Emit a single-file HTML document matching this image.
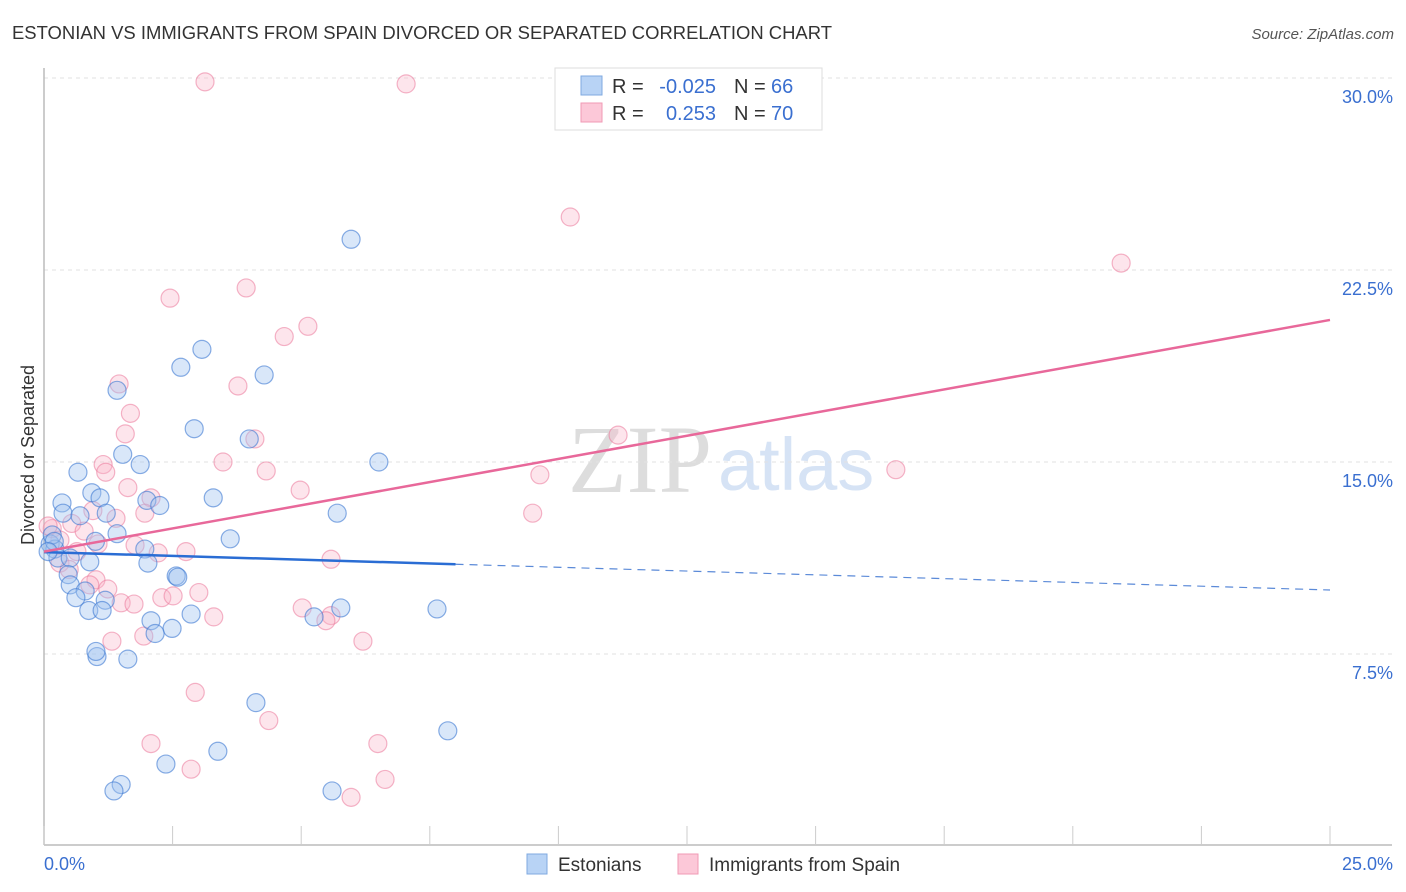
<!DOCTYPE html>
<html><head><meta charset="utf-8"><style>
body{margin:0;background:#fff;font-family:"Liberation Sans",sans-serif;}
svg{display:block}
</style></head><body>
<svg id="chart" width="1406" height="892">
<text x="12" y="39" font-size="18" fill="#333" textLength="820" lengthAdjust="spacingAndGlyphs">ESTONIAN VS IMMIGRANTS FROM SPAIN DIVORCED OR SEPARATED CORRELATION CHART</text>
<text x="1394" y="39" font-size="15" fill="#555" font-style="italic" text-anchor="end">Source: ZipAtlas.com</text>
<text x="712" y="492" font-size="96" fill="#ddd" font-family="Liberation Serif" text-anchor="end">ZIP</text>
<text x="718" y="490" font-size="74" fill="#d6e3f5">atlas</text>
<g id="grid"></g>
<g id="axes"></g>
<g id="pts"></g>
<g id="trend"></g>
<text transform="translate(34,455) rotate(-90)" font-size="18" fill="#333" text-anchor="middle">Divorced or Separated</text>
<g>
<rect x="555" y="68" width="267" height="62" fill="#fff" stroke="#ddd"/>
<rect x="581" y="76" width="21" height="19" fill="#b8d3f5" stroke="#7fa9e0"/>
<rect x="581" y="103" width="21" height="19" fill="#fcc8d8" stroke="#f09ab5"/>
<text x="612" y="93" font-size="20" fill="#333">R =</text>
<text x="716" y="93" font-size="20" fill="#3a6fd0" text-anchor="end">-0.025</text>
<text x="734" y="93" font-size="20" fill="#333">N =</text>
<text x="771" y="93" font-size="20" fill="#3a6fd0">66</text>
<text x="612" y="120" font-size="20" fill="#333">R =</text>
<text x="716" y="120" font-size="20" fill="#3a6fd0" text-anchor="end">0.253</text>
<text x="734" y="120" font-size="20" fill="#333">N =</text>
<text x="771" y="120" font-size="20" fill="#3a6fd0">70</text>
</g>
<g>
<rect x="527" y="854" width="20" height="20" fill="#b8d3f5" stroke="#7fa9e0"/>
<text x="558" y="871" font-size="19" fill="#333">Estonians</text>
<text x="709" y="871" font-size="19" fill="#333">Immigrants from Spain</text>
<rect x="678" y="854" width="20" height="20" fill="#fcc8d8" stroke="#f09ab5"/>
</g>
</svg>
<script>
const xTicks=[0,2.5,5,7.5,10,12.5,15,17.5,20,22.5,25];
const yTicks=[7.5,15,22.5,30];
const yTickLabels=["7.5%","15.0%","22.5%","30.0%"];
const xLabels=["0.0%","25.0%"];
const blueX=[5.97,3.07,2.66,4.28,1.42,2.92,3.99,1.53,1.87,6.51,0.66,0.93,1.09,3.29,0.35,2.0,2.25,1.21,0.37,0.70,5.70,1.42,3.62,1.00,1.96,0.12,0.21,0.27,0.51,0.89,2.02,0.47,2.57,2.6,0.51,0.80,0.62,1.19,5.77,7.64,0.87,1.13,5.25,2.86,2.08,2.49,2.16,1.03,1.01,1.63,4.12,7.85,3.38,2.37,1.5,1.36,5.6,0.16,0.2,0.08];
const blueY=[23.7,19.4,18.7,18.4,17.8,16.3,15.9,15.3,14.9,15.0,14.6,13.8,13.6,13.6,13.4,13.5,13.3,13.0,13.0,12.9,13.0,12.2,12.0,11.9,11.6,11.8,11.6,11.25,11.25,11.1,11.05,10.6,10.55,10.5,10.2,9.96,9.7,9.6,9.3,9.26,9.2,9.2,8.95,9.06,8.8,8.5,8.3,7.4,7.6,7.3,5.6,4.5,3.7,3.2,2.4,2.15,2.15,12.15,11.9,11.5];
const pinkX=[3.13,7.04,10.23,20.94,2.45,3.93,5.13,4.67,1.46,3.77,1.68,1.58,4.1,11.16,3.48,1.15,1.2,4.32,9.64,16.56,1.63,4.98,2.08,0.95,1.96,9.5,1.4,0.54,0.16,0.78,1.77,2.22,2.76,1.05,5.58,0.31,0.64,1.01,0.49,0.89,1.24,2.29,3.01,2.51,1.5,1.75,5.02,3.3,5.58,5.48,1.94,1.32,6.2,2.94,4.37,2.08,6.49,2.86,6.63,5.97,0.31,0.08];
const pinkY=[29.85,29.77,24.57,22.77,21.4,21.8,20.3,19.9,18.05,17.97,16.9,16.1,15.9,16.05,15.0,14.9,14.6,14.65,14.5,14.7,14.0,13.9,13.6,13.1,13.0,13.0,12.8,12.6,12.4,12.3,11.75,11.45,11.5,11.8,11.2,11.05,11.5,10.4,10.8,10.2,10.04,9.7,9.9,9.77,9.5,9.45,9.3,8.95,9.0,8.8,8.2,8.0,8.0,6.0,4.9,4.0,4.0,3.0,2.6,1.9,11.95,12.5];
const blueTrend=[11.48,10.0];
const pinkTrend=[11.5,20.55];
const sx=v=>44+v/25*1286;
const sy=v=>846-v/30*768;
const NS="http://www.w3.org/2000/svg";
function mk(t,p,a){const e=document.createElementNS(NS,t);for(const k in a)e.setAttribute(k,a[k]);p.appendChild(e);return e;}
const grid=document.getElementById('grid'),axes=document.getElementById('axes');
yTicks.forEach((v,i)=>{
 const l=mk('line',grid,{x1:44,x2:1392,y1:sy(v),y2:sy(v),stroke:'#e2e2e2','stroke-dasharray':'4,4'});
 
 
 const t=mk('text',axes,{x:1393,y:sy(v)+25,'font-size':18,fill:'#3a6fd0','text-anchor':'end'});
 t.textContent=yTickLabels[i];
 
 
});
const ax=mk('line',axes,{x1:44,x2:1392,y1:845,y2:845,stroke:'#bbb','stroke-width':1.5});


const ay=mk('line',axes,{x1:44,x2:44,y1:68,y2:845,stroke:'#bbb','stroke-width':1.5});


xTicks.forEach(v=>{
 const t=mk('line',axes,{x1:sx(v),x2:sx(v),y1:826,y2:845,stroke:'#ccc'});
 
 
});
[[0,'start',44],[25,'end',1393]].forEach((d,i)=>{
 const t=mk('text',axes,{x:d[2],y:870,'font-size':18,fill:'#3a6fd0','text-anchor':d[1]});
 t.textContent=xLabels[i];
 
 
});
const pts=document.getElementById('pts');
pinkX.forEach((x,i)=>{
 const c=mk('circle',pts,{cx:sx(x),cy:sy(pinkY[i]),r:9,fill:'rgba(248,180,200,0.35)',stroke:'rgba(235,120,155,0.55)','stroke-width':1.2});
 
 
});
blueX.forEach((x,i)=>{
 const c=mk('circle',pts,{cx:sx(x),cy:sy(blueY[i]),r:9,fill:'rgba(160,195,240,0.4)',stroke:'rgba(60,120,210,0.6)','stroke-width':1.2});
 
 
});
const tr=document.getElementById('trend');
const bEnd=8;
const bMid=blueTrend[0]+(blueTrend[1]-blueTrend[0])*bEnd/25;
let l=mk('line',tr,{x1:sx(0),y1:sy(blueTrend[0]),x2:sx(bEnd),y2:sy(bMid),stroke:'#2a6dd4','stroke-width':2.5});


l=mk('line',tr,{x1:sx(bEnd),y1:sy(bMid),x2:sx(25),y2:sy(blueTrend[1]),stroke:'#5b8ad8','stroke-width':1.2,'stroke-dasharray':'8,6'});


l=mk('line',tr,{x1:sx(0),y1:sy(pinkTrend[0]),x2:sx(25),y2:sy(pinkTrend[1]),stroke:'#e8689a','stroke-width':2.5});


</script>
</body></html>
